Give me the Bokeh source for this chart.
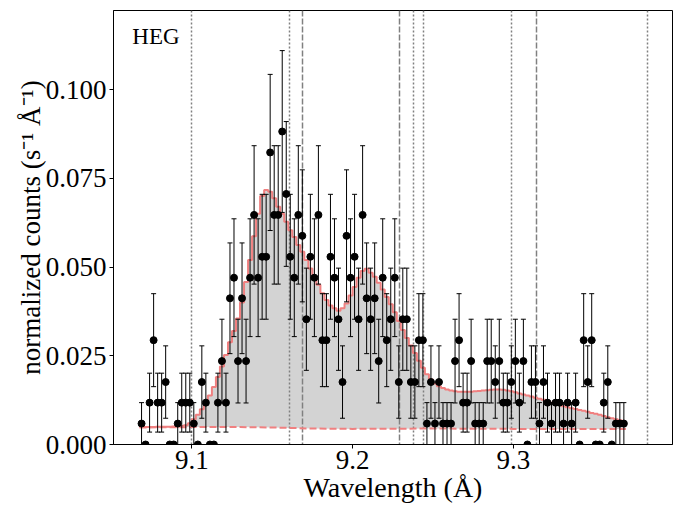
import numpy as np
from bokeh.plotting import figure
from bokeh.models import Range1d, FixedTicker, NumeralTickFormatter, Label
from bokeh.embed import file_html
from bokeh.resources import INLINE

# ---------------- data ----------------
WAVE_START = 9.06875      # first bin centre (Angstrom)
BIN_WIDTH = 0.0025        # HEG bin width (Angstrom)

flux = [
    0.0059, 0.0, 0.0118, 0.0294, 0.0118, 0.0118, 0.0176, 0.0, 0.0, 0.0059,
    0.0118, 0.0118, 0.0118, 0.0059, 0.0, 0.0176, 0.0118, 0.0, 0.0, 0.0118,
    0.0235, 0.0118, 0.0412, 0.0470, 0.0235, 0.0412, 0.0235, 0.0470, 0.0647, 0.0470,
    0.0529, 0.0529, 0.0823, 0.0647, 0.0647, 0.0882, 0.0706, 0.0529, 0.0470, 0.0647,
    0.0588, 0.0353, 0.0529, 0.0470, 0.0647, 0.0294, 0.0294, 0.0529, 0.0470, 0.0353,
    0.0176, 0.0588, 0.0470, 0.0529, 0.0353, 0.0647, 0.0412, 0.0353, 0.0412, 0.0235,
    0.0470, 0.0294, 0.0353, 0.0470, 0.0176, 0.0353, 0.0353, 0.0176, 0.0176, 0.0294,
    0.0294, 0.0059, 0.0176, 0.0059, 0.0176, 0.0059, 0.0059, 0.0059, 0.0235, 0.0294,
    0.0118, 0.0118, 0.0235, 0.0059, 0.0059, 0.0059, 0.0235, 0.0235, 0.0176, 0.0235,
    0.0118, 0.0118, 0.0176, 0.0235, 0.0118, 0.0235, 0.0, 0.0176, 0.0176, 0.0059,
    0.0176, 0.0118, 0.0059, 0.0118, 0.0118, 0.0059, 0.0118, 0.0059, 0.0118, 0.0,
    0.0294, 0.0176, 0.0294, 0.0, 0.0, 0.0118, 0.0176, 0.0, 0.0059, 0.0059, 0.0059,
]

flux_err = [
    0.0059, 0.0, 0.0083, 0.0131, 0.0083, 0.0083, 0.0102, 0.0, 0.0, 0.0059,
    0.0083, 0.0083, 0.0083, 0.0059, 0.0, 0.0102, 0.0083, 0.0, 0.0, 0.0083,
    0.0118, 0.0083, 0.0156, 0.0166, 0.0118, 0.0156, 0.0118, 0.0166, 0.0195, 0.0166,
    0.0176, 0.0176, 0.0220, 0.0195, 0.0195, 0.0228, 0.0204, 0.0176, 0.0166, 0.0195,
    0.0186, 0.0144, 0.0176, 0.0166, 0.0195, 0.0131, 0.0131, 0.0176, 0.0166, 0.0144,
    0.0102, 0.0186, 0.0166, 0.0176, 0.0144, 0.0195, 0.0156, 0.0144, 0.0156, 0.0118,
    0.0166, 0.0131, 0.0144, 0.0166, 0.0102, 0.0144, 0.0144, 0.0102, 0.0102, 0.0131,
    0.0131, 0.0059, 0.0102, 0.0059, 0.0102, 0.0059, 0.0059, 0.0059, 0.0118, 0.0131,
    0.0083, 0.0083, 0.0118, 0.0059, 0.0059, 0.0059, 0.0118, 0.0118, 0.0102, 0.0118,
    0.0083, 0.0083, 0.0102, 0.0118, 0.0083, 0.0118, 0.0, 0.0102, 0.0102, 0.0059,
    0.0102, 0.0083, 0.0059, 0.0083, 0.0083, 0.0059, 0.0083, 0.0059, 0.0083, 0.0,
    0.0131, 0.0102, 0.0131, 0.0, 0.0, 0.0083, 0.0102, 0.0, 0.0059, 0.0059, 0.0059,
]

model = [
    0.0049, 0.0049, 0.0049, 0.0049, 0.0050, 0.0050, 0.0050, 0.0050, 0.0051, 0.0051,
    0.0052, 0.0054, 0.0060, 0.0071, 0.0084, 0.0099, 0.0117, 0.0138, 0.0162, 0.0190,
    0.0220, 0.0252, 0.0288, 0.0320, 0.0355, 0.0400, 0.0458, 0.0520, 0.0587, 0.0650,
    0.0700, 0.0717, 0.0712, 0.0694, 0.0670, 0.0650, 0.0628, 0.0604, 0.0585, 0.0562,
    0.0543, 0.0520, 0.0496, 0.0473, 0.0450, 0.0426, 0.0407, 0.0392, 0.0384, 0.0377,
    0.0384, 0.0397, 0.0420, 0.0444, 0.0470, 0.0489, 0.0495, 0.0484, 0.0473, 0.0456,
    0.0437, 0.0416, 0.0395, 0.0373, 0.0348, 0.0323, 0.0300, 0.0279, 0.0258, 0.0236,
    0.0216, 0.0198, 0.0183, 0.0172, 0.0164, 0.0159, 0.0155, 0.0152, 0.0150, 0.0149,
    0.0149, 0.0149, 0.0149, 0.0150, 0.0151, 0.0152, 0.0153, 0.0154, 0.0155, 0.0155,
    0.0154, 0.0152, 0.0150, 0.0147, 0.0144, 0.0141, 0.0138, 0.0135, 0.0132, 0.0129,
    0.0126, 0.0122, 0.0118, 0.0115, 0.0111, 0.0108, 0.0105, 0.0102, 0.0100, 0.0097,
    0.0095, 0.0092, 0.0089, 0.0087, 0.0084, 0.0080, 0.0077, 0.0074, 0.0071, 0.0068, 0.0065,
]

cont_wave = [9.0675, 9.10, 9.13, 9.15, 9.175, 9.20, 9.25, 9.30, 9.37]
cont_flux = [0.0048, 0.0049, 0.0049, 0.0048, 0.0045, 0.0044, 0.0045, 0.0044, 0.0044]

dotted_lines = [9.1000, 9.1606, 9.2378, 9.2440, 9.2990, 9.3837]
dashed_lines = [9.1687, 9.2292, 9.3144]

x_ticks = [9.1, 9.2, 9.3]
y_ticks = [0.0, 0.025, 0.050, 0.075, 0.100]

# ---------------- derived arrays ----------------
wave = [round(WAVE_START + BIN_WIDTH * i, 5) for i in range(len(flux))]

step_x, step_y = [], []
for w, m in zip(wave, model):
    step_x += [w - BIN_WIDTH / 2, w + BIN_WIDTH / 2]
    step_y += [m, m]

patch_x = step_x + cont_wave[::-1]
patch_y = step_y + cont_flux[::-1]

eb_x = [w for w, e in zip(wave, flux_err) if e > 0]
eb_lo = [f - e for f, e in zip(flux, flux_err) if e > 0]
eb_hi = [f + e for f, e in zip(flux, flux_err) if e > 0]

FONT = "Liberation Serif"
RED = "#f08080"
GREY = "#808080"

p = figure(width=682, height=516, output_backend="svg", toolbar_location=None,
           x_range=Range1d(9.0513, 9.3990), y_range=Range1d(0.0, 0.1223),
           min_border_left=113, min_border_right=10, min_border_top=10,
           min_border_bottom=72)
p.background_fill_color = "white"
p.border_fill_color = "white"
p.outline_line_color = "black"
p.outline_line_width = 1
p.grid.visible = False

# model fill between continuum and model
p.patch(patch_x, patch_y, fill_color="#d3d3d3", line_color=None)

# vertical line markers
p.vspan(x=dotted_lines, line_color=GREY, line_width=1.5, line_dash="2 2")
p.vspan(x=dashed_lines, line_color=GREY, line_width=1.5, line_dash="6 2")

# continuum and model
p.line(cont_wave, cont_flux, line_color=RED, line_width=2, line_dash="7 3")
p.line(step_x, step_y, line_color=RED, line_width=2)

# error bars + data
p.segment(x0=eb_x, y0=eb_lo, x1=eb_x, y1=eb_hi, line_color="black", line_width=1)
p.scatter(eb_x + eb_x, eb_lo + eb_hi, marker="dash", size=5,
          line_color="black", line_width=1)
p.scatter(wave, flux, size=7, fill_color="black", line_color="black")

# axes
p.xaxis.ticker = FixedTicker(ticks=x_ticks, minor_ticks=[])
p.yaxis.ticker = FixedTicker(ticks=y_ticks, minor_ticks=[])
p.xaxis.formatter = NumeralTickFormatter(format="0.0")
p.yaxis.formatter = NumeralTickFormatter(format="0.000")
p.xaxis.axis_label = "Wavelength (Å)"
p.yaxis.axis_label = "normalized counts (s⁻¹ Å⁻¹)"
for ax in (p.xaxis, p.yaxis):
    ax.axis_label_text_font = FONT
    ax.axis_label_text_font_style = "normal"
    ax.axis_label_text_color = "black"
    ax.major_label_text_font = FONT
    ax.major_label_text_font_size = "27px"
    ax.major_label_text_color = "black"
    ax.major_tick_out = 4
    ax.major_tick_in = 0
    ax.major_tick_line_color = "black"
    ax.minor_tick_line_color = None
    ax.axis_line_color = "black"
p.xaxis.axis_label_text_font_size = "28px"
p.yaxis.axis_label_text_font_size = "27px"
p.xaxis.major_label_standoff = 2
p.xaxis.axis_label_standoff = 0
p.yaxis.major_label_standoff = 3
p.yaxis.axis_label_standoff = -3

p.add_layout(Label(x=9.0630, y=0.1151, text="HEG", text_font=FONT,
                   text_font_size="23px", text_color="black",
                   text_align="left", text_baseline="alphabetic"))

open("out.html", "w").write(file_html(p, INLINE))
